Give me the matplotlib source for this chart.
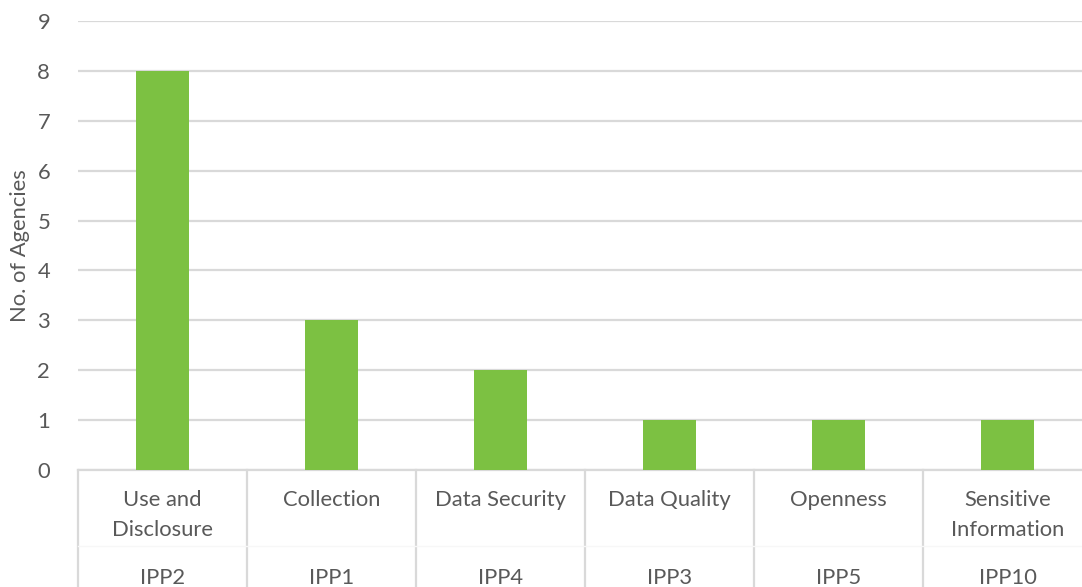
import matplotlib.pyplot as plt
import matplotlib.transforms as mtransforms

# categories and counts
topics = ['Use and\nDisclosure', 'Collection', 'Data Security', 'Data Quality', 'Openness', 'Sensitive\nInformation']
principles = ['IPP2', 'IPP1', 'IPP4', 'IPP3', 'IPP5', 'IPP10']
agencies = [8, 3, 2, 1, 1, 1]
yticks = list(range(0, 10))

text_color = '#595959'
grid_color = '#d9d9d9'
bar_color = '#7cc142'
font = 'Lato'
fs = 15.8

W, H = 1082, 587
fig = plt.figure(figsize=(W / 100, H / 100), dpi=100)
# plot area runs a little past the right edge of the canvas
left, right, top, bottom = 78, 1092, 21, 470
ax = fig.add_axes([left / W, 1 - bottom / H, (right - left) / W, (bottom - top) / H])

x = list(range(len(agencies)))
ax.bar(x, agencies, width=0.31, color=bar_color, zorder=3)

ax.set_xlim(-0.5, len(agencies) - 0.5)
ax.set_ylim(0, 9)
ax.set_yticks(yticks)
ax.set_yticklabels([str(v) for v in yticks], fontsize=fs, color=text_color, family=font)
ax.tick_params(axis='y', length=0, pad=20)
ax.set_xticks([])
ax.grid(axis='y', color=grid_color, linewidth=1.6, zorder=0)
for s in ['top', 'right', 'left']:
    ax.spines[s].set_visible(False)
ax.spines['bottom'].set_color(grid_color)
ax.spines['bottom'].set_linewidth(1.6)

ax.set_ylabel('No. of Agencies', fontsize=fs, color=text_color, family=font, labelpad=5)

# two-level category axis below the plot
ph = bottom - top
trans = mtransforms.blended_transform_factory(ax.transData, ax.transAxes)
for i, (t, p) in enumerate(zip(topics, principles)):
    ax.text(i, -(490 - bottom) / ph, t, transform=trans, ha='center', va='top',
            fontsize=fs, color=text_color, family=font, linespacing=1.65, clip_on=False)
    ax.text(i, -(578 - bottom) / ph, p, transform=trans, ha='center', va='center',
            fontsize=fs, color=text_color, family=font, clip_on=False)

for b in range(len(agencies) + 1):
    ax.plot([b - 0.5, b - 0.5], [0, -(600 - bottom) / ph], transform=trans,
            color=grid_color, linewidth=1.6, clip_on=False)
ax.plot([-0.5, len(agencies) - 0.5], [-(546 - bottom) / ph] * 2, transform=trans,
        color='#f7f7f7', linewidth=1.0, clip_on=False)

fig.savefig('out.png', dpi=100)
